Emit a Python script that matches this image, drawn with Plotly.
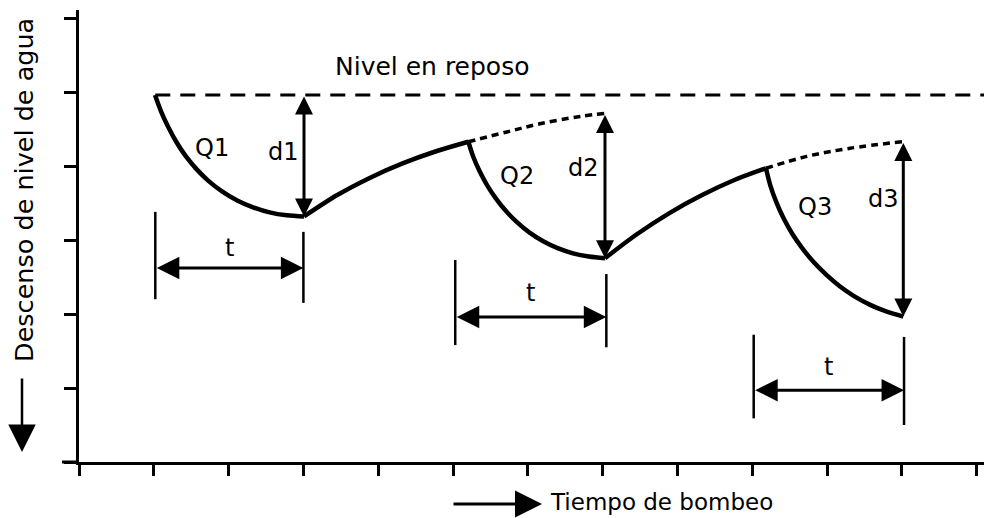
import plotly.graph_objects as go

# ---------------- data (time units along x, level units along y; axis bottom = 0) ----------------
time_ticks = list(range(0, 13))
level_ticks = list(range(0, 7))

rest_level = 4.96
rest_t = [1.02, 12.10]

q1_t = [1.016, 1.095, 1.190, 1.298, 1.425, 1.571, 1.734, 1.917, 2.115, 2.328, 2.548, 2.777, 3.008]
q1_s = [4.959, 4.743, 4.534, 4.331, 4.136, 3.958, 3.796, 3.654, 3.535, 3.442, 3.374, 3.334, 3.318]

rec1_t = [3.008, 3.447, 3.886, 4.326, 4.765, 5.205]
rec1_s = [3.318, 3.604, 3.839, 4.035, 4.196, 4.328]

q2_t = [5.205, 5.271, 5.356, 5.457, 5.575, 5.709, 5.858, 6.024, 6.206, 6.400, 6.604, 6.817, 7.032]
q2_s = [4.328, 4.125, 3.928, 3.739, 3.560, 3.391, 3.238, 3.100, 2.984, 2.890, 2.820, 2.776, 2.754]

ext2_t = [5.205, 5.72, 6.16, 6.70, 7.032]
ext2_s = [4.328, 4.46, 4.57, 4.67, 4.71]

rec2_t = [7.032, 7.463, 7.893, 8.324, 8.754, 9.184]
rec2_s = [2.754, 3.081, 3.364, 3.604, 3.807, 3.969]

q3_t = [9.184, 9.242, 9.321, 9.418, 9.533, 9.668, 9.818, 9.985, 10.166, 10.361, 10.571, 10.791, 11.020]
q3_s = [3.969, 3.738, 3.514, 3.296, 3.088, 2.891, 2.705, 2.535, 2.378, 2.242, 2.127, 2.034, 1.965]

ext3_t = [9.184, 9.73, 10.31, 11.02]
ext3_s = [3.969, 4.13, 4.24, 4.33]

# drawdown arrows d1..d3: (time, top, bottom)
d_labels = ["d1", "d2", "d3"]
d_time = [3.008, 7.032, 11.02]
d_top = [4.96, 4.71, 4.33]
d_bottom = [3.318, 2.754, 1.965]

# pumping-time brackets t: start, end, arrow level, bar extents
t_start = [1.02, 5.03, 9.02]
t_end = [3.00, 7.05, 11.03]
t_level = [2.62, 1.96, 0.97]
bar_start_top = [3.38, 2.73, 1.72]
bar_start_bot = [2.20, 1.58, 0.59]
bar_end_top = [3.11, 2.54, 1.69]
bar_end_bot = [2.15, 1.55, 0.50]

q_labels = ["Q1", "Q2", "Q3"]
q_label_t = [1.78, 5.85, 9.84]
q_label_s = [4.24, 3.86, 3.45]
d_label_t = [2.73, 6.75, 10.75]
d_label_s = [4.19, 3.97, 3.55]
t_label_s = [2.89, 2.29, 1.28]

# ---------------- figure ----------------
FONT = "DejaVu Sans"
FS = 24
BLACK = "#000000"
fig = go.Figure()

fig.add_trace(go.Scatter(x=rest_t, y=[rest_level, rest_level], mode="lines",
                         line=dict(color=BLACK, width=3, dash="15px,10px")))

for tx, sy in [(ext2_t, ext2_s), (ext3_t, ext3_s)]:
    fig.add_trace(go.Scatter(x=tx, y=sy, mode="lines",
                             line=dict(color=BLACK, width=3.5, dash="7px,5px", shape="spline", smoothing=1.0)))

for tx, sy in [(q1_t, q1_s), (rec1_t, rec1_s), (q2_t, q2_s), (rec2_t, rec2_s), (q3_t, q3_s)]:
    fig.add_trace(go.Scatter(x=tx, y=sy, mode="lines",
                             line=dict(color=BLACK, width=4.5, shape="spline", smoothing=0.9)))

for i in range(3):
    fig.add_trace(go.Scatter(x=[t_start[i], t_start[i]], y=[bar_start_bot[i], bar_start_top[i]],
                             mode="lines", line=dict(color=BLACK, width=2.5)))
    fig.add_trace(go.Scatter(x=[t_end[i], t_end[i]], y=[bar_end_bot[i], bar_end_top[i]],
                             mode="lines", line=dict(color=BLACK, width=2.5)))

annotations = []
for i in range(3):
    annotations.append(dict(x=d_time[i], y=d_bottom[i], ax=d_time[i], ay=d_top[i],
                            xref="x", yref="y", axref="x", ayref="y", text="",
                            showarrow=True, arrowside="end+start", arrowhead=2, startarrowhead=2,
                            arrowsize=1.2, startarrowsize=1.2, arrowwidth=3, arrowcolor=BLACK))
    annotations.append(dict(x=t_end[i], y=t_level[i], ax=t_start[i], ay=t_level[i],
                            xref="x", yref="y", axref="x", ayref="y", text="",
                            showarrow=True, arrowside="end+start", arrowhead=2, startarrowhead=2,
                            arrowsize=1.5, startarrowsize=1.5, arrowwidth=3, arrowcolor=BLACK))
    annotations.append(dict(x=q_label_t[i], y=q_label_s[i], text=q_labels[i], showarrow=False,
                            xref="x", yref="y", xanchor="center", yanchor="middle",
                            font=dict(family=FONT, size=FS, color=BLACK)))
    annotations.append(dict(x=d_label_t[i], y=d_label_s[i], text=d_labels[i], showarrow=False,
                            xref="x", yref="y", xanchor="center", yanchor="middle",
                            font=dict(family=FONT, size=FS, color=BLACK)))
    annotations.append(dict(x=(t_start[i] + t_end[i]) / 2, y=t_label_s[i], text="t", showarrow=False,
                            xref="x", yref="y", xanchor="center", yanchor="middle",
                            font=dict(family=FONT, size=FS, color=BLACK)))

annotations.append(dict(x=4.72, y=5.35, text="Nivel en reposo", showarrow=False,
                        xref="x", yref="y", xanchor="center", yanchor="middle",
                        font=dict(family=FONT, size=25, color=BLACK)))

# axis titles with arrows; positions given in page pixels relative to plot area (79..985, 10..462)
W, H = 906.0, 452.0
annotations.append(dict(x=(24 - 79) / W, y=(462 - 190) / H, xref="paper", yref="paper",
                        xanchor="center", yanchor="middle",
                        text="Descenso de nivel de agua", textangle=-90, showarrow=False,
                        font=dict(family=FONT, size=25.5, color=BLACK)))
annotations.append(dict(x=(22 - 79) / W, y=(462 - 452) / H, xref="paper", yref="paper",
                        ax=0, ay=-75, text="", showarrow=True, arrowhead=2, arrowsize=2.2,
                        arrowwidth=2.5, arrowcolor=BLACK))
annotations.append(dict(x=(542 - 79) / W, y=(462 - 504) / H, xref="paper", yref="paper",
                        ax=-90, ay=0, text="", showarrow=True, arrowhead=2, arrowsize=1.8,
                        arrowwidth=3, arrowcolor=BLACK))
annotations.append(dict(x=(548 - 79) / W, y=(462 - 502) / H, xref="paper", yref="paper",
                        xanchor="left", yanchor="middle", text="Tiempo de bombeo", showarrow=False,
                        font=dict(family=FONT, size=23, color=BLACK)))

# the page body has an 8px margin: shrink the figure so the plot area lands at 79..985 x 10..462
BODY = 8
fig.update_layout(
    width=992 - BODY, height=518 - BODY,
    margin=dict(l=79 - BODY, r=7, t=10 - BODY, b=56, pad=0),
    paper_bgcolor="white", plot_bgcolor="white",
    showlegend=False,
    annotations=annotations,
    shapes=[dict(type="line", xref="paper", yref="paper", x0=(62 - 79) / W, x1=0, y0=0, y1=0,
                 line=dict(color=BLACK, width=3))],
    xaxis=dict(range=[0, (985 - 79) / 74.8], tickvals=time_ticks, showticklabels=False,
               ticks="outside", ticklen=11, tickwidth=3, tickcolor=BLACK,
               showline=True, linewidth=3, linecolor=BLACK, showgrid=False, zeroline=False,
               fixedrange=True),
    yaxis=dict(range=[0, (462 - 10) / 74.0], tickvals=level_ticks, showticklabels=False,
               ticks="outside", ticklen=12, tickwidth=3, tickcolor=BLACK,
               showline=True, linewidth=3, linecolor=BLACK, showgrid=False, zeroline=False,
               fixedrange=True),
)

fig.write_html("out.html")
